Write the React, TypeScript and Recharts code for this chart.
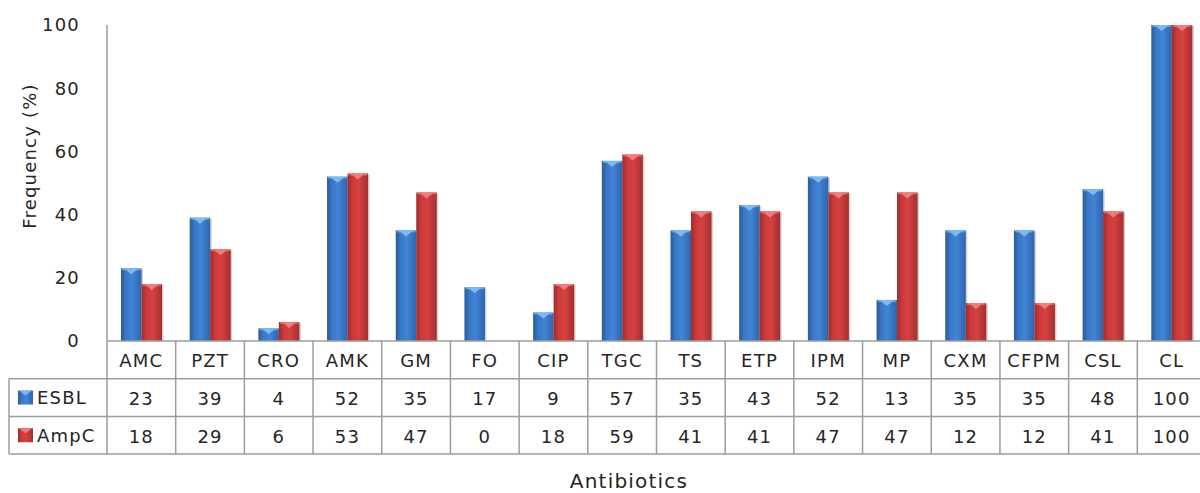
import { Bar, BarChart, XAxis, YAxis } from "recharts";

const categories = ["AMC", "PZT", "CRO", "AMK", "GM", "FO", "CIP", "TGC", "TS", "ETP", "IPM", "MP", "CXM", "CFPM", "CSL", "CL"];
const esbl = [23, 39, 4, 52, 35, 17, 9, 57, 35, 43, 52, 13, 35, 35, 48, 100];
const ampc = [18, 29, 6, 53, 47, 0, 18, 59, 41, 41, 47, 47, 12, 12, 41, 100];
const yTicks = [0, 20, 40, 60, 80, 100];

const data = categories.map((name, i) => ({ name, ESBL: esbl[i], AmpC: ampc[i] }));

const WIDTH = 1206;
const HEIGHT = 493;
const AXIS_W = 107;
const COL_W = (WIDTH - AXIS_W) / categories.length;
const ROW_H = 37.7;
const LINE = "#9d9d9d";
const FONT = "'DejaVu Sans', sans-serif";
const TEXT = "#262626";

const textStyle = { fontFamily: FONT, fontSize: 18, letterSpacing: 1.2, fill: TEXT };

const LegendColumn = ({ right, top }: { right: number; top: number }) => {
  const left = 9;
  const keys = [
    { name: "ESBL", grad: "gBlue", tip: "#7db9f2" },
    { name: "AmpC", grad: "gRed", tip: "#f27b7b" },
  ];
  return (
    <g>
      <line x1={left} x2={left} y1={top + ROW_H} y2={top + 3 * ROW_H} stroke={LINE} strokeWidth={1.5} />
      {[1, 2, 3].map((r) => (
        <line key={r} x1={left} x2={right} y1={top + r * ROW_H} y2={top + r * ROW_H} stroke={LINE} strokeWidth={1.5} />
      ))}
      {keys.map((k, r) => {
        const cy = top + (r + 1) * ROW_H + ROW_H / 2;
        return (
          <g key={k.name}>
            <rect x={18} y={cy - 7} width={15} height={14} fill={`url(#${k.grad})`} />
            <polygon points={`${19},${cy - 7} ${32},${cy - 7} ${25.5},${cy - 2}`} fill={k.tip} />
            <text x={37} y={cy} dominantBaseline="central" style={textStyle}>
              {k.name}
            </text>
          </g>
        );
      })}
    </g>
  );
};

const TableTick = ({ x, y, payload }: any) => {
  const i = payload.index;
  const left = x - COL_W / 2;
  const cells = [categories[i], String(esbl[i]), String(ampc[i])];
  return (
    <g>
      {i === 0 && <LegendColumn right={left} top={y} />}
      <line x1={left} x2={left} y1={y} y2={y + 3 * ROW_H} stroke={LINE} strokeWidth={1.5} />
      {i === categories.length - 1 && (
        <line x1={left + COL_W} x2={left + COL_W} y1={y} y2={y + 3 * ROW_H} stroke={LINE} strokeWidth={1.5} />
      )}
      {[1, 2, 3].map((r) => (
        <line key={r} x1={left} x2={left + COL_W} y1={y + r * ROW_H} y2={y + r * ROW_H} stroke={LINE} strokeWidth={1.5} />
      ))}
      {cells.map((t, r) => (
        <text key={r} x={x} y={y + r * ROW_H + ROW_H / 2 + 1} textAnchor="middle" dominantBaseline="central" style={textStyle}>
          {t}
        </text>
      ))}
    </g>
  );
};

const BevelBar = ({ x, y, width, height, grad, tip }: any) => {
  if (!height || height <= 0) return null;
  const tri = Math.min(6, height);
  return (
    <g>
      <rect x={x + 1.5} y={y + 1} width={width} height={height - 1} fill="rgba(0,0,0,0.18)" />
      <rect x={x} y={y} width={width} height={height} fill={`url(#${grad})`} />
      <rect x={x + 1} y={y} width={width - 2} height={Math.min(2, height)} fill={tip} opacity={0.7} />
      <polygon points={`${x + 3},${y} ${x + width - 3},${y} ${x + width / 2},${y + tri}`} fill={tip} />
    </g>
  );
};

const YTitle = () => (
  <text
    x={29}
    y={156}
    transform="rotate(-90 29 156)"
    textAnchor="middle"
    dominantBaseline="central"
    style={{ ...textStyle, fontSize: 18 }}
  >
    Frequency (%)
  </text>
);

const XTitle = () => (
  <text x={629} y={488} textAnchor="middle" style={{ ...textStyle, fontSize: 20 }}>
    Antibiotics
  </text>
);

export default function App() {
  return (
    <div style={{ position: "absolute", left: 0, top: 0, width: 1200, height: HEIGHT, overflow: "hidden", background: "#fff" }}>
      <BarChart
        width={WIDTH}
        height={HEIGHT}
        data={data}
        margin={{ top: 25, right: 0, left: 0, bottom: 0 }}
        barGap={0}
        barSize={20.5}
      >
        <defs>
          <linearGradient id="gBlue" x1="0" y1="0" x2="1" y2="0">
            <stop offset="0%" stopColor="#2b5a98" />
            <stop offset="25%" stopColor="#3a78c8" />
            <stop offset="55%" stopColor="#4184d6" />
            <stop offset="100%" stopColor="#2f64ab" />
          </linearGradient>
          <linearGradient id="gRed" x1="0" y1="0" x2="1" y2="0">
            <stop offset="0%" stopColor="#a02b2b" />
            <stop offset="25%" stopColor="#cc3a3a" />
            <stop offset="55%" stopColor="#d54141" />
            <stop offset="100%" stopColor="#a52e2e" />
          </linearGradient>
        </defs>
        <XAxis
          dataKey="name"
          height={HEIGHT - 341}
          axisLine={{ stroke: LINE, strokeWidth: 1.5 }}
          tickLine={false}
          tickSize={0}
          tickMargin={0}
          interval={0}
          tick={(p: any) => <TableTick {...p} />}
          label={{ content: () => <XTitle /> }}
        />
        <YAxis
          width={AXIS_W}
          domain={[0, 100]}
          ticks={yTicks}
          axisLine={{ stroke: LINE, strokeWidth: 1.5 }}
          tickLine={false}
          tickSize={0}
          tickMargin={27}
          tick={{ fontFamily: FONT, fontSize: 18, letterSpacing: 1.2, fill: TEXT }}
          label={{ content: () => <YTitle /> }}
        />
        <Bar dataKey="ESBL" isAnimationActive={false} shape={(p: any) => <BevelBar {...p} grad="gBlue" tip="#7db9f2" />} />
        <Bar dataKey="AmpC" isAnimationActive={false} shape={(p: any) => <BevelBar {...p} grad="gRed" tip="#f27b7b" />} />
      </BarChart>
    </div>
  );
}
